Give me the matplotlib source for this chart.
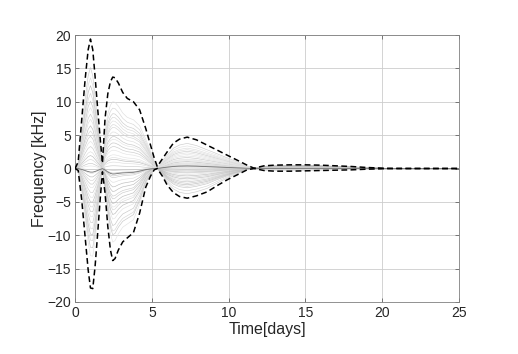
import numpy as np
import matplotlib
matplotlib.use('Agg')
import matplotlib.pyplot as plt

# knot times [days] and the dashed envelopes [kHz]
t_knots = [0, 0.2, 0.43, 0.65, 0.85, 1.0, 1.15, 1.3, 1.45, 1.63, 1.78,
           1.95, 2.13, 2.3, 2.45, 2.6, 2.82, 3.1, 3.4, 3.8, 4.2, 4.6, 4.9, 5.15, 5.35,
           5.7, 6.0, 6.4, 6.8, 7.3, 7.9, 8.6, 9.3, 9.9, 10.6, 11.2, 11.65,
           12.3, 13.0, 14.0, 15.0, 16.0, 17.0, 18.0, 19.0, 20.3, 22.0, 25.0]

env_upper = [0, 1.0, 7.3, 13.3, 17.8, 19.4, 17.8, 13.8, 9.5, 4.6, 0.8,
             7.5, 11.2, 13.0, 13.7, 13.6, 12.8, 11.4, 10.5, 10.0, 8.8, 6.0, 3.6, 1.6, 0.3,
             1.5, 2.5, 3.8, 4.4, 4.7, 4.3, 3.5, 2.7, 2.0, 1.2, 0.5, 0.05,
             0.4, 0.5, 0.55, 0.55, 0.5, 0.4, 0.3, 0.15, 0.03, 0.0, 0.0]

env_lower = [0, -0.3, -4.7, -10.2, -15.2, -17.9, -18.0, -14.7, -10.3, -4.7, -0.5,
             -3.7, -8.7, -12.2, -13.8, -13.5, -12.2, -11.0, -10.4, -9.6, -6.7, -2.8, -1.2, -0.2, 0.0,
             -1.2, -2.5, -3.6, -4.2, -4.45, -4.1, -3.5, -2.5, -1.7, -0.9, -0.2, 0.0,
             -0.3, -0.4, -0.4, -0.35, -0.3, -0.25, -0.2, -0.1, -0.02, 0.0, 0.0]

# which oscillation lobe each knot belongs to
lobe_of_knot = [0]*11 + [1]*14 + [2]*12 + [3]*11

# each gray run: its amplitude in every lobe, as a share of the envelope
frac_lobe1 = [0.78, 0.70, 0.64, 0.58, 0.52, 0.47, 0.42, 0.38, 0.33, 0.29, 0.25, 0.21,
              0.17, 0.13, 0.10, 0.07, 0.04, 0.02, -0.01, -0.04, -0.07, -0.10, -0.13, -0.16,
              -0.20, -0.24, -0.28, -0.32, -0.36, -0.40, -0.45, -0.50, -0.55, -0.60, -0.66, -0.73]
frac_lobe2 = [-0.30, 0.73, -0.05, 0.45, -0.62, 0.20, 0.60, -0.15, 0.10, -0.45, 0.35, -0.80,
              0.03, 0.52, -0.25, -0.68, 0.28, 0.15, -0.10, 0.40, -0.38, 0.66, -0.02, -0.55,
              0.24, 0.07, -0.20, 0.56, -0.72, 0.32, -0.33, 0.12, -0.50, 0.48, -0.08, -0.42]
frac_lobe3 = [0.80, -0.20, 0.10, -0.60, 0.35, -0.05, 0.55, -0.40, 0.22, -0.75, 0.02, 0.45,
              -0.30, 0.65, -0.12, 0.15, -0.50, 0.28, -0.85, 0.40, -0.25, 0.06, -0.65, 0.72,
              -0.15, 0.50, -0.35, 0.18, -0.45, 0.30, -0.08, 0.60, -0.55, 0.12, -0.02, 0.25]
frac_lobe4 = [0.6, -0.5, 0.3, -0.7, 0.8, -0.2, 0.4, -0.6, 0.2, -0.4, 0.7, -0.3,
              0.5, -0.8, 0.1, -0.1, 0.6, -0.5, 0.3, -0.7, 0.8, -0.2, 0.4, -0.6,
              0.2, -0.4, 0.7, -0.3, 0.5, -0.8, 0.1, -0.1, 0.6, -0.5, 0.3, -0.7]
gray_levels = ['0.80', '0.87', '0.74', '0.84', '0.78', '0.89']

# the darker mean run
frac_mean = [-0.03, -0.06, 0.08, 0.0]


def run_from_fracs(fr):
    up = np.array(env_upper)
    lo = np.array(env_lower)
    out = []
    for k, lb in enumerate(lobe_of_knot):
        f = fr[lb]
        out.append(f*up[k] if f >= 0 else -f*lo[k])
    return np.array(out)


plt.rcParams['font.family'] = ['Liberation Sans', 'DejaVu Sans']

fig = plt.figure(figsize=(5.18, 3.54), dpi=100)
ax = fig.add_axes([0.145, 0.147, 0.741, 0.754])

for i in range(len(frac_lobe1)):
    fr = [frac_lobe1[i], frac_lobe2[i], frac_lobe3[i], frac_lobe4[i]]
    ax.plot(t_knots, run_from_fracs(fr), color=gray_levels[i % len(gray_levels)],
            linewidth=0.45, zorder=2)

ax.plot(t_knots, run_from_fracs(frac_mean), color='0.45', linewidth=0.6, zorder=3)

ax.plot(t_knots, env_upper, color='k', linewidth=1.1, dashes=(3.8, 2.2), zorder=4)
ax.plot(t_knots, env_lower, color='k', linewidth=1.1, dashes=(3.8, 2.2), zorder=4)

ax.set_xlim(0, 25)
ax.set_ylim(-20, 20)
ax.set_xticks([0, 5, 10, 15, 20, 25])
ax.set_yticks([-20, -15, -10, -5, 0, 5, 10, 15, 20])
ax.grid(True, color='0.8', linewidth=0.6)
ax.set_axisbelow(True)
for sp in ax.spines.values():
    sp.set_color('0.5')
    sp.set_linewidth(0.6)
ax.tick_params(direction='in', length=3, width=0.6, color='0.4', top=True, right=True,
               labelsize=10, labelcolor='#262626', pad=3)

ax.set_xlabel('Time[days]', fontsize=11.5, color='#262626', labelpad=1)
ax.set_ylabel('Frequency [kHz]', fontsize=11.5, color='#262626', labelpad=0)

fig.savefig('out.png', dpi=100)
